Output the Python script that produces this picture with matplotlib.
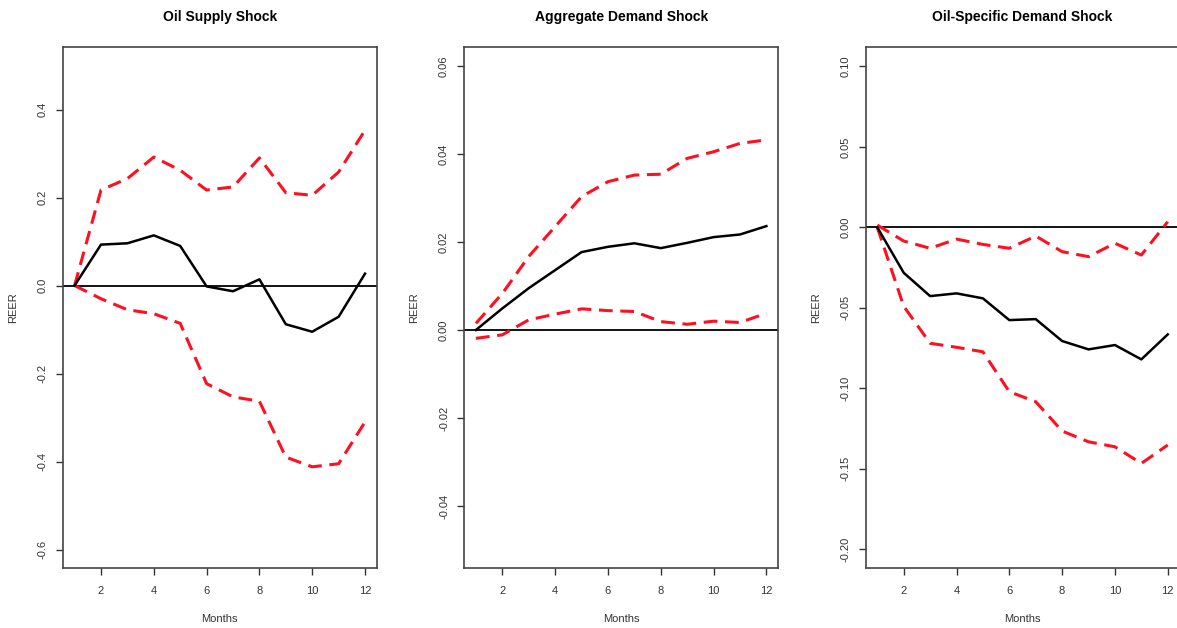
import numpy as np
import matplotlib
matplotlib.use("Agg")
import matplotlib.pyplot as plt

plt.rcParams['font.family'] = ['Liberation Sans', 'DejaVu Sans']

# Impulse responses of the real effective exchange rate (REER), months 1..12
months = np.arange(1, 13)

supply_irf = [0.0, 0.093, 0.096, 0.114, 0.090, -0.002, -0.013, 0.014, -0.088, -0.105, -0.071, 0.027]
supply_upper = [0.0, 0.217, 0.243, 0.292, 0.262, 0.217, 0.224, 0.290, 0.211, 0.205, 0.258, 0.353]
supply_lower = [0.0, -0.030, -0.055, -0.064, -0.086, -0.223, -0.253, -0.263, -0.390, -0.412, -0.405, -0.310]

demand_irf = [0.0, 0.0049, 0.0095, 0.0136, 0.0177, 0.0189, 0.0197, 0.0186, 0.0198, 0.0211, 0.0217, 0.0236]
demand_upper = [0.0015, 0.0083, 0.0167, 0.0235, 0.0303, 0.0337, 0.0352, 0.0354, 0.0390, 0.0405, 0.0424, 0.0432]
demand_lower = [-0.0019, -0.0011, 0.0023, 0.0036, 0.0048, 0.0044, 0.0042, 0.0019, 0.0013, 0.0020, 0.0017, 0.0038]

oilspec_irf = [0.0, -0.0282, -0.0427, -0.0410, -0.0441, -0.0576, -0.0570, -0.0706, -0.0758, -0.0731, -0.0820, -0.0665]
oilspec_upper = [0.0014, -0.0085, -0.0130, -0.0073, -0.0106, -0.0130, -0.0054, -0.0151, -0.0182, -0.0099, -0.0172, 0.0035]
oilspec_lower = [0.0, -0.049, -0.0720, -0.0745, -0.0773, -0.1021, -0.1083, -0.1265, -0.1332, -0.1363, -0.1466, -0.1352]

titles = ["Oil Supply Shock", "Aggregate Demand Shock", "Oil-Specific Demand Shock"]
y_limits = [(-0.642, 0.542), (-0.0541, 0.0643), (-0.2116, 0.112)]
y_ticks = [
    [-0.6, -0.4, -0.2, 0.0, 0.2, 0.4],
    [-0.04, -0.02, 0.00, 0.02, 0.04, 0.06],
    [-0.20, -0.15, -0.10, -0.05, 0.00, 0.05, 0.10],
]
y_ticklabels = [
    ["-0.6", "-0.4", "-0.2", "0.0", "0.2", "0.4"],
    ["-0.04", "-0.02", "0.00", "0.02", "0.04", "0.06"],
    ["-0.20", "-0.15", "-0.10", "-0.05", "0.00", "0.05", "0.10"],
]
x_ticks = [2, 4, 6, 8, 10, 12]

panels = [
    (supply_irf, supply_upper, supply_lower),
    (demand_irf, demand_upper, demand_lower),
    (oilspec_irf, oilspec_upper, oilspec_lower),
]

fig = plt.figure(figsize=(11.77, 6.28), dpi=100)
lefts = [0.0535, 0.3945, 0.7355]
width = 0.2665
bottom, height = 0.0955, 0.8296

for i, (irf, upper, lower) in enumerate(panels):
    ax = fig.add_axes([lefts[i], bottom, width, height])
    ax.axhline(0, color='black', lw=1.3)
    ax.plot(months, upper, color='#ff1020', lw=2.2, ls=(0, (4.5, 2.5)))
    ax.plot(months, lower, color='#ff1020', lw=2.2, ls=(0, (4.5, 2.5)))
    ax.plot(months, irf, color='black', lw=1.8)

    ax.set_xlim(0.56, 12.44)
    ax.set_ylim(*y_limits[i])
    ax.set_xticks(x_ticks)
    ax.set_xticklabels([str(t) for t in x_ticks])
    ax.set_yticks(y_ticks[i])
    ax.set_yticklabels(y_ticklabels[i], rotation=90, va='center')

    ax.tick_params(direction='out', length=5, width=1, colors='#333333',
                   labelcolor='#333333', labelsize=8)
    ax.tick_params(axis='x', pad=8)
    ax.tick_params(axis='y', pad=6)
    for s in ax.spines.values():
        s.set_color('#444444')
        s.set_linewidth(1.2)

    ax.set_title(titles[i], fontsize=10, fontweight='bold', pad=19)
    ax.set_xlabel("Months", fontsize=8, color='#333333', labelpad=13)
    ax.set_ylabel("REER", fontsize=8, color='#333333', labelpad=14)

fig.savefig("out.png", dpi=100)
